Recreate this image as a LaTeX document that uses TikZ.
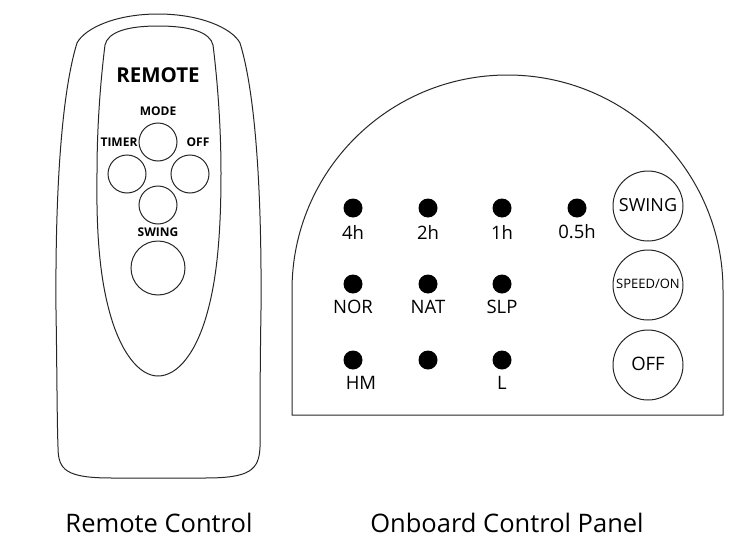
\documentclass[tikz,border=0pt]{standalone}
\usepackage{fontspec}
\setmainfont{Open Sans}
\tikzset{
    body/.style={draw=black!85, line width=1pt},
    btn/.style={circle, draw=black!85, line width=1pt, inner sep=0pt},
    led/.style={circle, fill=black, inner sep=0pt, minimum size=19pt},
    rlabel/.style={inner sep=0pt, font=\fontsize{12}{12}\selectfont\bfseries},
    plabel/.style={inner sep=0pt, font=\fontsize{18.5}{18.5}\selectfont},
    caption/.style={inner sep=0pt, font=\fontsize{25.5}{25.5}\selectfont}
}
\begin{document}
\begin{tikzpicture}[x=1pt,y=-1pt]
        \useasboundingbox (0,0) rectangle (737,557);
        \draw [body] (158,14) .. controls (200,14) and (232,28) .. (240,43)
            .. controls (253,85) and (262,170) .. (261,310)
            .. controls (260,370) and (260,420) .. (260,447)
            .. controls (259,470) and (250,478) .. (205,478)
            -- (112,478)
            .. controls (66,478) and (58,470) .. (58,447)
            .. controls (57,420) and (57,370) .. (56,310)
            .. controls (55,170) and (64,85) .. (77,43)
            .. controls (85,28) and (116,14) .. (158,14) -- cycle;
        \draw [body] (158,26) .. controls (190,26) and (210,32) .. (213,45)
            .. controls (218,85) and (221,130) .. (221,173)
            .. controls (221,240) and (216,280) .. (208,310)
            .. controls (197,352) and (178,376) .. (158,376)
            .. controls (139,376) and (120,352) .. (109,310)
            .. controls (101,280) and (96,240) .. (97,173)
            .. controls (97,130) and (100,85) .. (105,45)
            .. controls (108,32) and (127,26) .. (158,26) -- cycle;
        \node [inner sep=0pt, font=\fontsize{20.5}{20.5}\selectfont\bfseries] (remote) at (158,75) {REMOTE};
        \node [btn, minimum size=38pt] (bmode) at (158,142) {};
        \node [btn, minimum size=38pt] (btimer) at (127,174) {};
        \node [btn, minimum size=38pt] (boff) at (190,174) {};
        \node [btn, minimum size=38pt] (bdown) at (158,205) {};
        \node [btn, minimum size=54pt] (bswing) at (158,268) {};
        \node [rlabel] (lmode) at (158,111) {MODE};
        \node [rlabel] (ltimer) at (119,142) {TIMER};
        \node [rlabel] (loff) at (198,142) {OFF};
        \node [rlabel] (lswing) at (158,232) {SWING};
        \draw [body] (292,415) -- (292,290) arc [start angle=180, end angle=360, x radius=215.5, y radius=215] -- (723,415) -- cycle;
        \node [led] (d11) at (353,208) {};
        \node [led] (d12) at (428,208) {};
        \node [led] (d13) at (502,208) {};
        \node [led] (d14) at (577,208) {};
        \node [led] (d21) at (353,284) {};
        \node [led] (d22) at (428,284) {};
        \node [led] (d23) at (502,284) {};
        \node [led] (d31) at (353,360) {};
        \node [led] (d32) at (428,360) {};
        \node [led] (d33) at (502,360) {};
        \node [plabel] (l11) at (353,232) {4h};
        \node [plabel] (l12) at (428,232) {2h};
        \node [plabel] (l13) at (502,232) {1h};
        \node [plabel] (l14) at (577,232) {0.5h};
        \node [plabel] (l21) at (353,307) {NOR};
        \node [plabel] (l22) at (428,307) {NAT};
        \node [plabel] (l23) at (502,307) {SLP};
        \node [plabel] (l31) at (361,383) {HM};
        \node [plabel] (l33) at (502,383) {L};
        \node [btn, minimum size=70pt] (pswing) at (648,206) {};
        \node [btn, minimum size=70pt] (pspeed) at (648,285) {};
        \node [btn, minimum size=70pt] (poff) at (648,365) {};
        \node [inner sep=0pt, font=\fontsize{18}{18}\selectfont] (tswing) at (648,205) {SWING};
        \node [inner sep=0pt, font=\fontsize{13}{13}\selectfont] (tspeed) at (648,283.5) {SPEED/ON};
        \node [plabel] (toff) at (648,364) {OFF};
        \node [caption] (cremote) at (159,523) {Remote Control};
        \node [caption] (cpanel) at (507,523) {Onboard Control Panel};
    \end{tikzpicture}
\end{document}
